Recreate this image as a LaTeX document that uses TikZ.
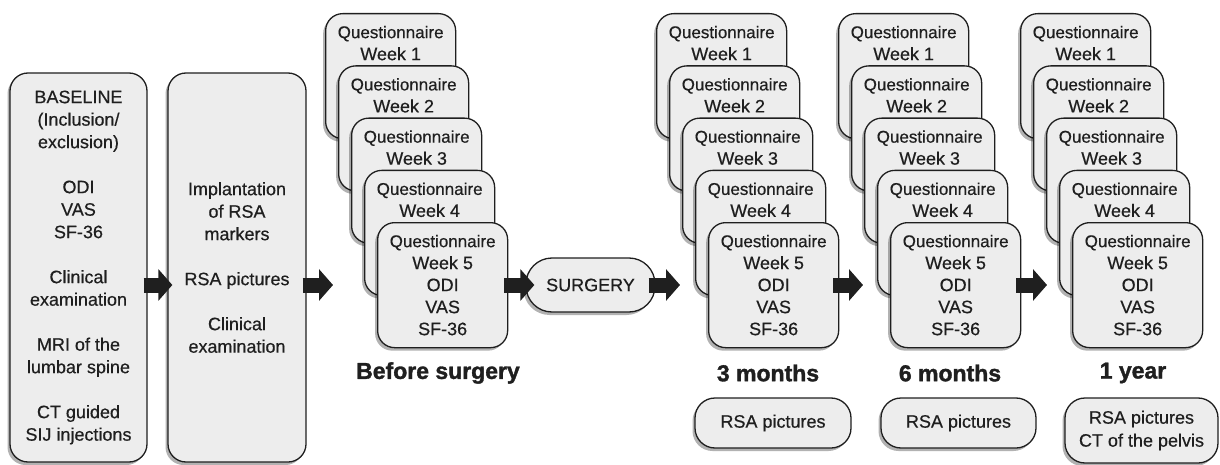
\documentclass[tikz,border=0pt]{standalone}
\usepackage{fontspec}
\setmainfont{Liberation Sans}[FakeBold=0.5, BoldFeatures={FakeBold=1.5}]
\usetikzlibrary{arrows.meta,shadows}
\definecolor{boxfill}{gray}{0.93}
\definecolor{ink}{gray}{0.12}
\newcommand{\qfont}{\fontsize{17}{22}\selectfont}
\tikzset{
  shadowed/.style={drop shadow={shadow xshift=-2.5pt, shadow yshift=-3pt, opacity=0.3, fill=black}},
  boxbase/.style={draw=ink, line width=1.3pt, fill=boxfill, text=ink, align=center, shadowed},
  bigbox/.style={boxbase, rounded corners=18pt, minimum width=137pt, minimum height=389pt,
    inner sep=0pt, font=\fontsize{18}{22.5}\selectfont},
  qbox/.style={boxbase, rounded corners=17pt, minimum width=130pt, anchor=north west,
    inner xsep=0pt, inner ysep=12pt, text height=34.5pt, text depth=66.5pt,
    font=\fontsize{18}{22}\selectfont},
  qlast/.style={qbox, text height=100.5pt, text depth=0.5pt},
  pill/.style={boxbase, rounded corners=26pt, minimum width=129pt, minimum height=54pt,
    inner sep=0pt, font=\fontsize{18}{22}\selectfont},
  rsabox/.style={boxbase, rounded corners=20pt, inner sep=0pt, font=\fontsize{18}{23}\selectfont},
  lbl/.style={text=ink, font=\bfseries\fontsize{23}{27}\selectfont, inner sep=0pt},
  bigarrow/.style={ink, line width=15pt, -{Triangle[length=14pt,width=31pt]}}
}
\newcommand{\qstack}[2]{%
  \foreach \i in {1,2,3,4} {
    \node[qbox] (#1\i) at ({#2+13*(\i-1)}, {13+52.25*(\i-1)}) {{\qfont Questionnaire}\\Week \i};
  }
  \node[qlast] (#15) at ({#2+52}, 222) {{\qfont Questionnaire}\\Week 5\\ODI\\VAS\\SF-36};
}
\begin{document}
\begin{tikzpicture}[x=1pt, y=-1pt]
\useasboundingbox (0,0) rectangle (1220,465);

% large boxes
\node[bigbox] (b1) at (78.5,267.5) {BASELINE\\(Inclusion/\\exclusion)\\[22.5pt]ODI\\VAS\\SF-36\\[22.5pt]Clinical\\examination\\[22.5pt]MRI of the\\lumbar spine\\[22.5pt]CT guided\\SIJ injections};
\node[bigbox, minimum width=138pt] (b2) at (237,267.5) {Implantation\\of RSA\\markers\\[22.5pt]RSA pictures\\[22.5pt]Clinical\\examination};

% questionnaire stacks
\qstack{bs}{325}
\qstack{ma}{656}
\qstack{mb}{838}
\qstack{yr}{1020}

% surgery
\node[pill] (sg) at (590.5,285) {SURGERY};

% labels
\node[lbl] (lbefore) at (438,373) {Before surgery};
\node[lbl] (l3) at (768,373) {3 months};
\node[lbl] (l6) at (950,373) {6 months};
\node[lbl] (l1) at (1133,373) {1 year};

% RSA boxes
\node[rsabox, minimum width=156pt, minimum height=50pt] (r3) at (773,423) {RSA pictures};
\node[rsabox, minimum width=155pt, minimum height=50pt] (r6) at (958.5,423) {RSA pictures};
\node[rsabox, minimum width=153pt, minimum height=65pt] (r1) at (1141.5,430.5) {RSA pictures\\CT of the pelvis};

% arrows
\draw[bigarrow, shorten <=-4pt, shorten >=-5pt] (b1.east |- sg.center) -- (b2.west |- sg.center);
\draw[bigarrow, shorten <=-4pt, shorten >=31pt] (b2.east |- sg.center) -- (bs4.west |- sg.center);
\draw[bigarrow, shorten <=-4pt, shorten >=-9pt] (bs5.east |- sg.center) -- (sg.west);
\draw[bigarrow, shorten <=-7pt, shorten >=15pt] (sg.east) -- (ma4.west |- sg.center);
\draw[bigarrow, shorten <=-6pt, shorten >=14pt] (ma5.east |- sg.center) -- (mb4.west |- sg.center);
\draw[bigarrow, shorten <=-5pt, shorten >=12pt] (mb5.east |- sg.center) -- (yr4.west |- sg.center);
\end{tikzpicture}
\end{document}
